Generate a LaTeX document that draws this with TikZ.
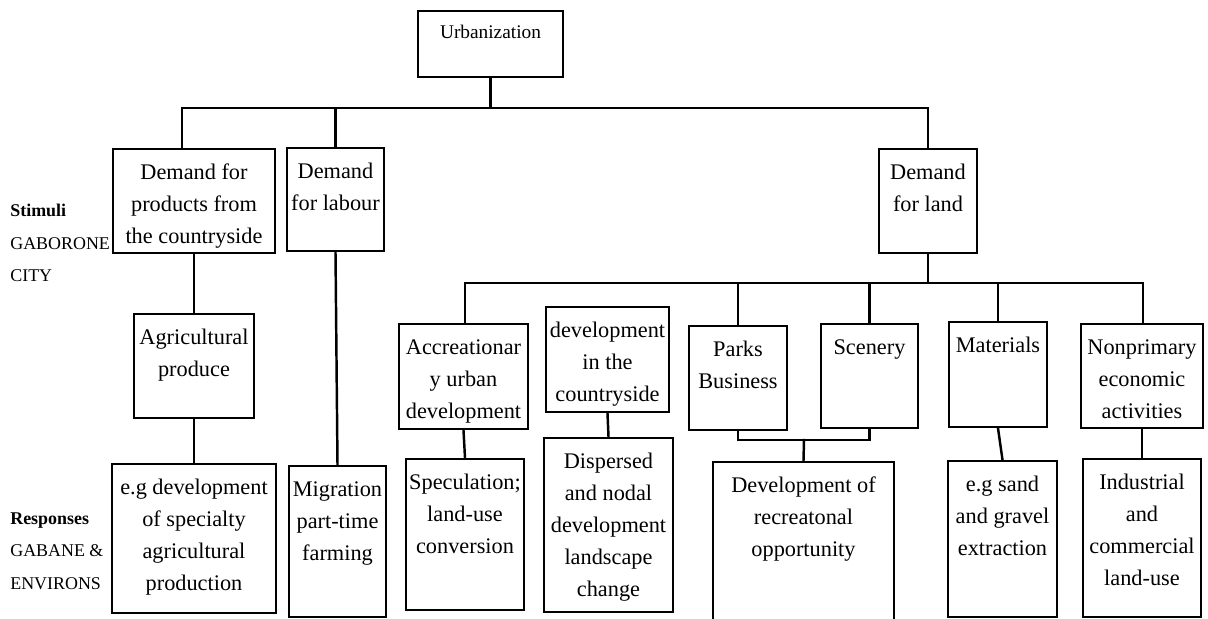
\documentclass[tikz,border=0pt]{standalone}
\usepackage{fontspec}
\setmainfont{Liberation Serif}
\usepackage{tikz}
\usetikzlibrary{positioning}

\newlength{\unitpx}
\setlength{\unitpx}{0.02cm}
\newcommand{\boxfont}{\fontsize{12.7}{18.2}\selectfont}
\newcommand{\boxtext}[3]{\parbox[c][#2\unitpx][t]{#1\unitpx}{\centering\vspace*{4.5pt}\strut#3\par}}

\begin{document}
\begin{tikzpicture}[x=0.02cm,y=-0.02cm,
          cell/.style={draw,line width=1.4pt,inner sep=0pt,font=\boxfont},
          sidelbl/.style={anchor=west,align=left,inner sep=0pt,
                          font=\fontsize{10.2}{18.5}\selectfont},
          link/.style={line width=1.4pt,line cap=rect}
      ]
        \useasboundingbox (0,0) rectangle (1208,619);

        \node[cell,font=\fontsize{11}{16}\selectfont] (urb) at (490.5,44) {\boxtext{145}{66}{Urbanization}};

        \node[cell] (dprod) at (194,201) {\boxtext{162}{104}{Demand for\\products from\\the countryside}};
        \node[cell] (dlab) at (335.5,199.5) {\boxtext{97}{103}{Demand\\for labour}};
        \node[cell] (dland) at (928,201) {\boxtext{98}{104}{Demand\\for land}};

        \node[cell] (agri) at (194,366) {\boxtext{120}{104}{Agricultural\\produce}};
        \node[cell] (accr) at (463.5,376.5) {\boxtext{129}{105}{Accreationar\\y urban\\development}};
        \node[cell] (dcoun) at (607.5,359.5) {\boxtext{123}{105}{development\\in the\\countryside}};
        \node[cell] (parks) at (738,378) {\boxtext{98}{104}{Parks\\Business}};
        \node[cell] (scen) at (869.5,376) {\boxtext{97}{104}{Scenery}};
        \node[cell] (mat) at (998,374.5) {\boxtext{98}{105}{Materials}};
        \node[cell] (nonp) at (1142,376) {\boxtext{122}{104}{Nonprimary\\economic\\activities}};

        \node[cell] (egdev) at (194,538.5) {\boxtext{164}{149}{e.g development\\of specialty\\agricultural\\production}};
        \node[cell] (migr) at (337.5,541.5) {\boxtext{97}{151}{Migration\\part-time\\farming}};
        \node[cell] (spec) at (465,534.5) {\boxtext{118}{151}{Speculation;\\land-use\\conversion}};
        \node[cell] (disp) at (608.5,525) {\boxtext{129}{174}{Dispersed\\and nodal\\development\\landscape\\change}};
        \node[cell] (recr) at (803.5,548.5) {\boxtext{181}{173}{Development of\\recreatonal\\opportunity}};
        \node[cell] (sand) at (1002.5,539) {\boxtext{109}{156}{e.g sand\\and gravel\\extraction}};
        \node[cell] (indu) at (1142,538) {\boxtext{118}{158}{Industrial\\and\\commercial\\land-use}};

        \node[sidelbl] (stim) at (10,243) {\textbf{Stimuli}\\GABORONE\\CITY};
        \node[sidelbl] (resp) at (10,551) {\textbf{Responses}\\GABANE \&\\ENVIRONS};

        % first level
        \coordinate (busA) at (182,108);
        \coordinate (busB) at (928,108);
        \draw[link] (busA) -- (busB);
        \draw[link] (urb.south) -- (urb.south |- busA);
        \draw[link] (busA) -- (busA |- dprod.north);
        \draw[link] (dlab.north |- busA) -- (dlab.north);
        \draw[link] (busB) -- (dland.north);

        \draw[link] (dprod.south) -- (agri.north);
        \draw[link] (agri.south) -- (egdev.north);
        \draw[link] (dlab.south) -- (migr.north);

        % land branch
        \coordinate (busC) at (465,283);
        \coordinate (busD) at (1143,283);
        \draw[link] (busC) -- (busD);
        \draw[link] (dland.south) -- (dland.south |- busC);
        \draw[link] (busC) -- (busC |- accr.north);
        \draw[link] (parks.north |- busC) -- (parks.north);
        \draw[link] (scen.north |- busC) -- (scen.north);
        \draw[link] (mat.north |- busC) -- (mat.north);
        \draw[link] (busD) -- (busD |- nonp.north);

        \draw[link] (accr.south) -- (spec.north);
        \draw[link] (dcoun.south) -- (disp.north);
        \coordinate (jn) at (804,440);
        \draw[link] (parks.south) -- (parks.south |- jn) -- (scen.south |- jn) -- (scen.south);
        \draw[link] (jn) -- (recr.north);
        \draw[link] (mat.south) -- (sand.north);
        \draw[link] (nonp.south) -- (indu.north);
      \end{tikzpicture}
\end{document}
